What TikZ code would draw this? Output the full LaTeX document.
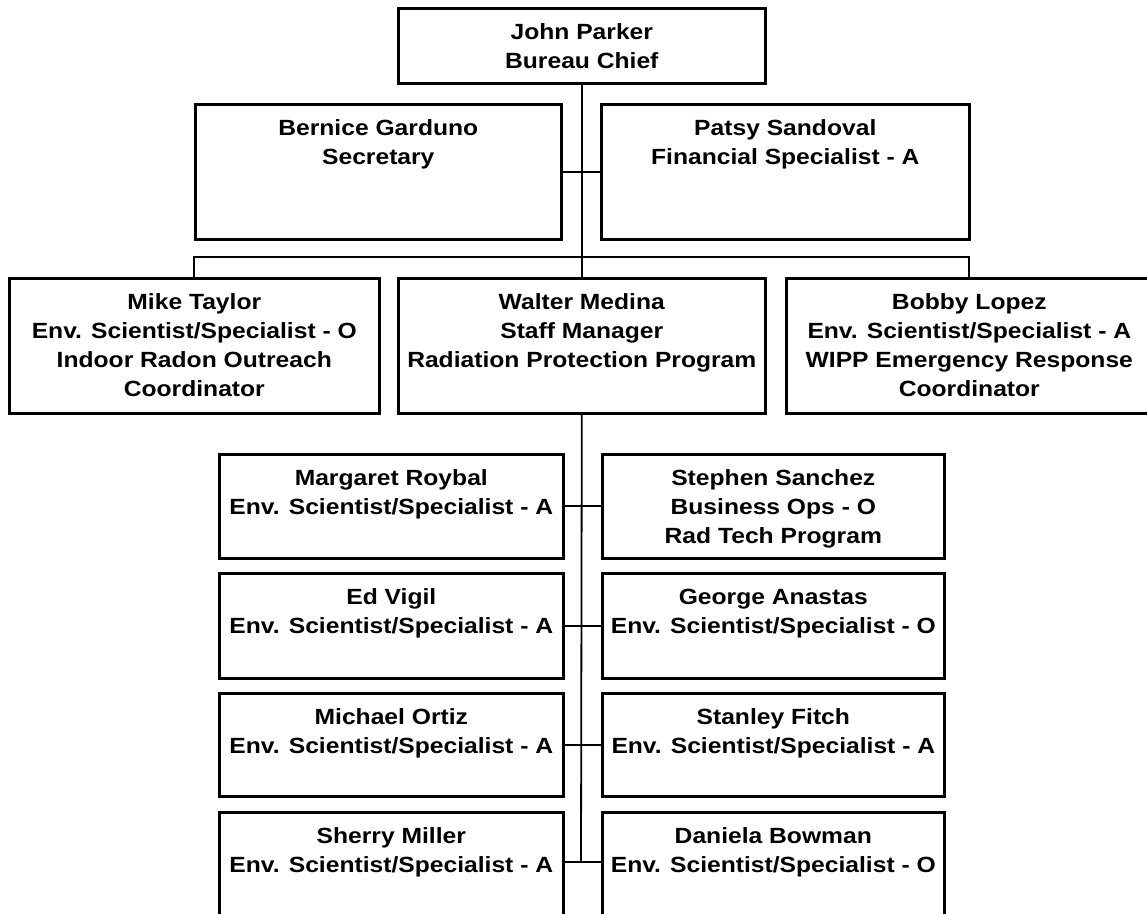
\documentclass[tikz,border=0pt]{standalone}
\usepackage{fontspec}
\newfontfamily\chartfont{Liberation Sans}[FakeStretch=1.12]
\newcommand{\orgtext}[3]{\parbox[b][#2][t]{#1}{\centering\rule{0pt}{31pt}#3}}

\begin{document}
\begin{tikzpicture}[x=1pt,y=-1pt,
  staff/.style={draw,line width=2.6pt,anchor=north west,inner sep=0pt,font=\chartfont\bfseries\fontsize{22}{29}\selectfont},
  link/.style={line width=1.8pt}]
\useasboundingbox (0,0) rectangle (1147,913);
\clip (0,0) rectangle (1147,913);
% chief and office staff
\node[staff] (jp) at (397,7) {\orgtext{367pt}{75pt}{John Parker\\Bureau Chief}};
\node[staff] (bg) at (194,103) {\orgtext{366pt}{135pt}{Bernice Garduno\\Secretary}};
\node[staff] (ps) at (600,103) {\orgtext{368pt}{135pt}{Patsy Sandoval\\Financial Specialist - A}};
% second level
\node[staff] (mt) at (8,277) {\orgtext{370pt}{135pt}{Mike Taylor\\Env. Scientist/Specialist - O\\Indoor Radon Outreach\\Coordinator}};
\node[staff] (wm) at (397,277) {\orgtext{367pt}{135pt}{Walter Medina\\Staff Manager\\Radiation Protection Program}};
\node[staff] (bl) at (785,277) {\orgtext{366pt}{135pt}{Bobby Lopez\\Env. Scientist/Specialist - A\\WIPP Emergency Response\\Coordinator}};
% radiation protection program
\node[staff] (mr) at (218,453) {\orgtext{344pt}{104pt}{Margaret Roybal\\Env. Scientist/Specialist - A}};
\node[staff] (ss) at (601,453) {\orgtext{342pt}{104pt}{Stephen Sanchez\\Business Ops - O\\Rad Tech Program}};
\node[staff] (ev) at (218,572) {\orgtext{344pt}{105pt}{Ed Vigil\\Env. Scientist/Specialist - A}};
\node[staff] (ga) at (601,572) {\orgtext{342pt}{105pt}{George Anastas\\Env. Scientist/Specialist - O}};
\node[staff] (mo) at (218,692) {\orgtext{344pt}{103pt}{Michael Ortiz\\Env. Scientist/Specialist - A}};
\node[staff] (sf) at (601,692) {\orgtext{342pt}{103pt}{Stanley Fitch\\Env. Scientist/Specialist - A}};
\node[staff] (sm) at (218,811) {\orgtext{344pt}{120pt}{Sherry Miller\\Env. Scientist/Specialist - A}};
\node[staff] (db) at (601,811) {\orgtext{342pt}{120pt}{Daniela Bowman\\Env. Scientist/Specialist - O}};
% connectors
\coordinate (bus) at (581,257);
\coordinate (bot) at (581,862);
\draw[link] (jp.south) -- (wm.north);
\draw[link] (bg.east) -- (ps.west);
\draw[link] (mt.north) |- (bus) -| (bl.north);
\draw[link] (wm.south) -- (bot);
\draw[link] (mr.east) -- (ss.west);
\draw[link] (ev.east) -- (ga.west);
\draw[link] (mo.east) -- (sf.west);
\draw[link] (sm.east |- bot) -- (db.west |- bot);
\end{tikzpicture}
\end{document}
